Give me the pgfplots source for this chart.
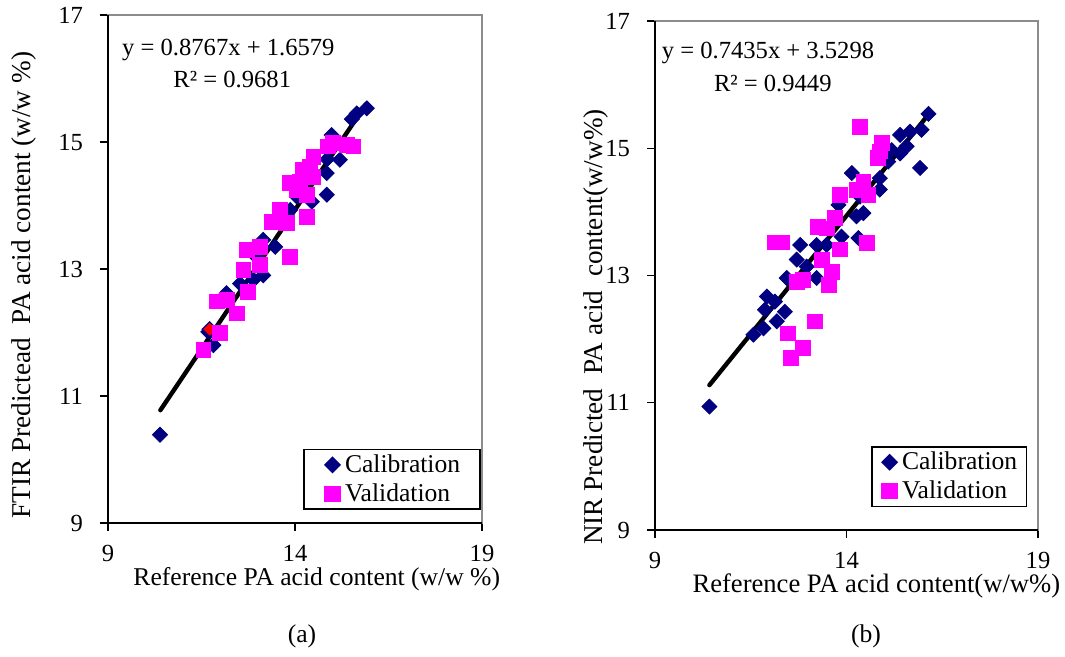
\documentclass[border=0pt]{standalone}
\usepackage{fontspec}
\setmainfont{Liberation Serif}
\usepackage{pgfplots}
\pgfplotsset{compat=1.18}
\definecolor{navy}{HTML}{000080}
\definecolor{mag}{HTML}{FF00FF}
\definecolor{framegray}{HTML}{8C8C8C}

\pgfplotsset{
  myax/.style={
    scale only axis,
    anchor=south west,
    xmin=9, xmax=19, ymin=9, ymax=17,
    xtick={9,14,19}, ytick={9,11,13,15,17},
    tick pos=left, tick align=outside,
    major tick length=4pt,
    minor tick num=0,
    axis line style={draw=framegray, line width=0.8pt},
    tick style={black, line width=0.6pt},
    xticklabel style={font=\fontsize{12.3}{14}\selectfont, yshift=-3.5pt},
    yticklabel style={font=\fontsize{12.3}{14}\selectfont, xshift=-5pt},
    /pgf/number format/assume math mode=true,
    label style={font=\fontsize{12.8}{15}\selectfont, inner sep=0pt},
    clip=false,
    legend cell align=left,
    after end axis/.code={\draw[black, line width=0.8pt] (rel axis cs:0,1) -- (rel axis cs:0,0) -- (rel axis cs:1,0);},
  },
  cal/.style={only marks, color=navy, mark=square*, mark size=2.65pt,
    mark options={rotate=45, fill=navy, draw=navy}},
  redm/.style={only marks, color=red, mark=square*, mark size=2.65pt,
    mark options={rotate=45, fill=red, draw=navy, line width=0.6pt}},
  val/.style={only marks, color=mag, mark=square*, mark size=3.7pt,
    mark options={fill=mag, draw=mag}},
  fit/.style={black, line width=2.2pt, line cap=round, no marks},
}

\begin{document}
\begin{tikzpicture}
\useasboundingbox (0,0) rectangle (532.5pt,328.5pt);

% ---------------- (a) FTIR ----------------
\begin{axis}[myax,
  at={(54pt,67pt)}, width=187pt, height=254pt,
  xlabel={Reference PA acid content (w/w \%)},
  ylabel={FTIR Predictead\ \ PA acid content (w/w \%)},
  xlabel style={at={(axis description cs:0.067,0)}, anchor=west, yshift=-28pt},
  ylabel style={at={(axis description cs:-0.2246,0.008)}, anchor=west, font=\fontsize{13.6}{16}\selectfont},
  legend style={at={(0.997,0.026)}, anchor=south east, draw=black, line width=0.7pt,
    font=\fontsize{12.8}{15}\selectfont, inner xsep=0pt, inner ysep=2.5pt, row sep=4pt,
    nodes={inner sep=0pt}, column sep=2.5pt},
  legend image code/.code={\path (0pt,0pt); \draw[#1] plot coordinates {(14pt,0pt)};},
]
\addplot[cal] coordinates {
(15.92,15.53) (15.65,15.45) (15.52,15.36) (14.98,15.11) (15.20,14.72)
(14.85,14.51) (14.85,14.17) (14.45,14.06) (14.05,14.14) (13.87,13.93)
(13.47,13.35) (13.15,13.46) (13.15,12.90) (12.89,12.83) (12.53,12.77)
(12.17,12.62) (11.68,12.01) (11.82,11.80) (10.39,10.39) (14.86,14.73)
(14.30,14.40) (12.95,13.20)
};
\addlegendentry{Calibration\hspace*{10pt}}
\addplot[redm, forget plot] coordinates {(11.72,12.05)};
\addplot[val] coordinates {
(15.56,14.93) (15.38,14.95) (15.02,14.98) (14.89,14.93) (14.49,14.77)
(14.40,14.61) (14.49,14.45) (14.13,14.38) (13.87,14.35) (14.31,14.17)
(14.31,13.82) (13.60,13.93) (13.38,13.74) (13.78,13.72) (13.87,13.19)
(12.71,13.30) (13.06,13.35) (12.62,12.98) (13.06,13.06) (12.75,12.64)
(11.91,12.49) (12.17,12.51) (12.44,12.30) (11.99,11.99) (11.55,11.72)
(14.22,14.56) (14.05,14.24)
};
\addlegendentry{Validation}
\addplot[fit, forget plot] coordinates {(10.40,10.776) (15.90,15.597)};
\node[anchor=west, inner sep=0pt, font=\fontsize{12.3}{14}\selectfont] at (axis cs:9.37,16.45) {y = 0.8767x + 1.6579};
\node[anchor=west, inner sep=0pt, font=\fontsize{12.3}{14}\selectfont] at (axis cs:10.74,15.98) {R² = 0.9681};
\end{axis}

% ---------------- (b) NIR ----------------
\begin{axis}[myax,
  at={(327.5pt,63.5pt)}, width=191.5pt, height=254.5pt,
  xlabel={Reference PA acid content(w/w\%)},
  ylabel={NIR Predicted\ \ PA acid\ \ content(w/w\%)},
  xlabel style={at={(axis description cs:0.097,0)}, anchor=west, yshift=-28pt, font=\fontsize{13.3}{15}\selectfont},
  ylabel style={at={(axis description cs:-0.154,-0.03)}, anchor=west, font=\fontsize{13.6}{16}\selectfont},
  legend style={at={(0.971,0.045)}, anchor=south east, draw=black, line width=0.7pt,
    font=\fontsize{12.8}{15}\selectfont, inner xsep=0pt, inner ysep=2.5pt, row sep=4pt,
    nodes={inner sep=0pt}, column sep=2.5pt},
  legend image code/.code={\path (0pt,0pt); \draw[#1] plot coordinates {(8.5pt,0pt)};},
]
\addplot[cal] coordinates {
(16.14,15.54) (15.96,15.29) (15.66,15.26) (15.40,15.21) (15.57,15.03)
(15.40,14.92) (15.18,14.97) (15.92,14.69) (15.09,14.79) (14.87,14.53)
(14.87,14.35) (14.14,14.61) (14.35,14.24) (14.26,13.93) (14.44,13.98)
(14.31,13.59) (13.79,14.11) (13.87,13.61) (13.48,13.48) (13.22,13.48)
(12.79,13.48) (12.70,13.25) (12.96,13.14) (13.22,12.96) (12.44,12.96)
(11.92,12.67) (12.13,12.59) (12.39,12.43) (11.87,12.46) (12.18,12.28)
(11.83,12.17) (11.57,12.07) (10.42,10.94)
};
\addlegendentry{Calibration\hspace*{4.5pt}}
\addplot[val] coordinates {
(14.35,15.33) (14.92,15.08) (14.87,14.95) (14.83,14.85) (14.44,14.48)
(14.26,14.35) (14.57,14.27) (13.83,14.27) (13.70,13.90) (13.26,13.77)
(13.48,13.74) (14.53,13.51) (13.83,13.41) (12.13,13.52) (12.31,13.52)
(13.35,13.25) (13.61,13.06) (13.55,12.85) (12.87,12.93) (12.70,12.90)
(13.18,12.28) (12.48,12.09) (12.87,11.86) (12.54,11.71)
};
\addlegendentry{Validation}
\addplot[fit, forget plot] coordinates {(10.42,11.277) (16.12,15.515)};
\node[anchor=west, inner sep=0pt, font=\fontsize{12.3}{14}\selectfont] at (axis cs:9.17,16.49) {y = 0.7435x + 3.5298};
\node[anchor=west, inner sep=0pt, font=\fontsize{12.3}{14}\selectfont] at (axis cs:10.53,16.02) {R² = 0.9449};
\end{axis}

\node[font=\fontsize{12.8}{15}\selectfont] at (151pt,10.5pt) {(a)};
\node[font=\fontsize{12.8}{15}\selectfont] at (433pt,10.5pt) {(b)};
\end{tikzpicture}
\end{document}
